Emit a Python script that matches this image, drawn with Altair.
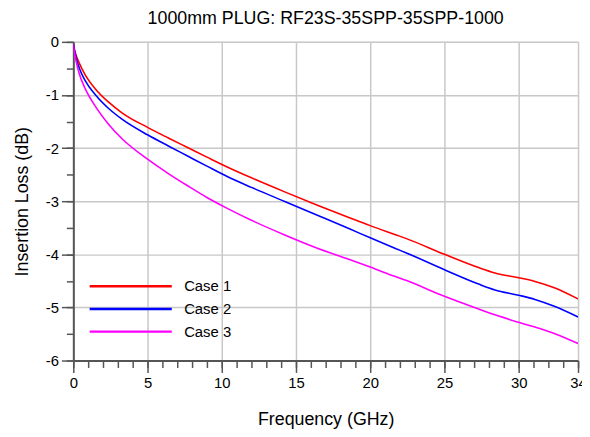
import altair as alt
import pandas as pd

freq = [0, 0.1, 0.2, 0.4, 0.8, 1.5, 2.4, 3.3, 5, 6.4, 7.7, 9.0, 10.4, 12, 14.2, 16.4,
        18.6, 20, 21.7, 22.4, 25, 27.3, 28.4, 30, 31.1, 32.4, 34]
case1 = [-0.05, -0.17, -0.26, -0.40, -0.62, -0.89, -1.14, -1.34, -1.61, -1.81, -1.99,
         -2.17, -2.36, -2.56, -2.82, -3.07, -3.31, -3.46, -3.63, -3.70, -4.00, -4.25,
         -4.35, -4.44, -4.51, -4.63, -4.84]
case2 = [-0.05, -0.19, -0.31, -0.49, -0.73, -1.00, -1.26, -1.46, -1.75, -1.96, -2.15,
         -2.34, -2.54, -2.74, -3.00, -3.26, -3.52, -3.69, -3.89, -3.97, -4.29, -4.56,
         -4.67, -4.77, -4.85, -4.98, -5.18]
case3 = [-0.05, -0.24, -0.38, -0.60, -0.88, -1.22, -1.56, -1.83, -2.21, -2.48, -2.71,
         -2.93, -3.14, -3.36, -3.63, -3.88, -4.10, -4.24, -4.42, -4.49, -4.79, -5.03,
         -5.14, -5.28, -5.37, -5.49, -5.68]
series = ["Case 1", "Case 2", "Case 3"]
colors = ["#ff0000", "#0000ff", "#ff00ff"]
x_major = [0, 5, 10, 15, 20, 25, 30, 34]
x_minor = list(range(0, 35))
y_major = [0, -1, -2, -3, -4, -5, -6]
y_minor = [-0.5 * i for i in range(13)]

rows = []
for name, vals in zip(series, [case1, case2, case3]):
    for f, v in zip(freq, vals):
        rows.append({"f": f, "loss": v, "case": name})
df = pd.DataFrame(rows)

FONT = "Liberation Sans"
AXC = "#555555"
xscale = alt.Scale(domain=[0, 34], nice=False, zero=False)
yscale = alt.Scale(domain=[-6, 0], nice=False, zero=False)

common_axis = dict(
    tickColor=AXC, tickWidth=1.5, domainColor=AXC, domainWidth=2,
    gridColor="#c8c8c8", gridWidth=1.5, labelFont=FONT, labelFontSize=15,
    labelColor="black", titleFont=FONT, titleFontSize=18, titleFontWeight="normal",
    titleColor="black", labelFlush=False, labelOverlap=False,
)

lines = alt.Chart(df).mark_line(strokeWidth=1.6, interpolate="monotone", clip=True).encode(
    x=alt.X("f:Q", scale=xscale, axis=alt.Axis(
        values=x_major, title="Frequency (GHz)", grid=True, tickSize=12, orient="bottom",
        labelPadding=3, titleX=255, titleY=65, titleBaseline="alphabetic",
        titleAlign="center", **common_axis)),
    y=alt.Y("loss:Q", scale=yscale, axis=alt.Axis(
        values=y_major, title="Insertion Loss (dB)", grid=True, tickSize=12, orient="left",
        labelPadding=3, titleX=-46, titleY=161, titleAngle=270, titleBaseline="alphabetic",
        titleAlign="center",
        labelExpr="datum.value == 0 ? '0' : '-' + format(abs(datum.value), 'd')",
        **common_axis)),
    color=alt.Color("case:N", scale=alt.Scale(domain=series, range=colors), legend=alt.Legend(
        title=None, orient="none", legendX=15, legendY=239, symbolType="stroke",
        symbolSize=6889, symbolStrokeWidth=2.5, labelFont=FONT, labelFontSize=15,
        labelColor="black", labelOffset=11, clipHeight=16, rowPadding=6.9, padding=0)),
)

minor = alt.Chart(df).mark_line(strokeOpacity=0).encode(
    x=alt.X("f:Q", scale=xscale, axis=alt.Axis(
        values=x_minor, title=None, grid=False, labels=False, domain=False, tickSize=7,
        tickColor=AXC, tickWidth=1.5, orient="bottom")),
    y=alt.Y("loss:Q", scale=yscale, axis=alt.Axis(
        values=y_minor, title=None, grid=False, labels=False, domain=False, tickSize=7,
        tickColor=AXC, tickWidth=1.5, orient="left")),
)

chart = alt.layer(lines, minor).resolve_scale(x="independent", y="independent").properties(
    width=510, height=322,
    autosize=alt.AutoSizeParams(type="none"),
    padding={"left": 66, "top": 32, "right": 4, "bottom": 70},
    title=alt.TitleParams("1000mm PLUG: RF23S-35SPP-35SPP-1000", font=FONT, fontSize=18,
                          fontWeight="normal", color="black", anchor="middle",
                          baseline="alphabetic", offset=-7),
).configure_view(stroke=AXC, strokeWidth=2).configure(background="white")

chart.save("out.html", embed_options={"renderer": "svg", "actions": False})
